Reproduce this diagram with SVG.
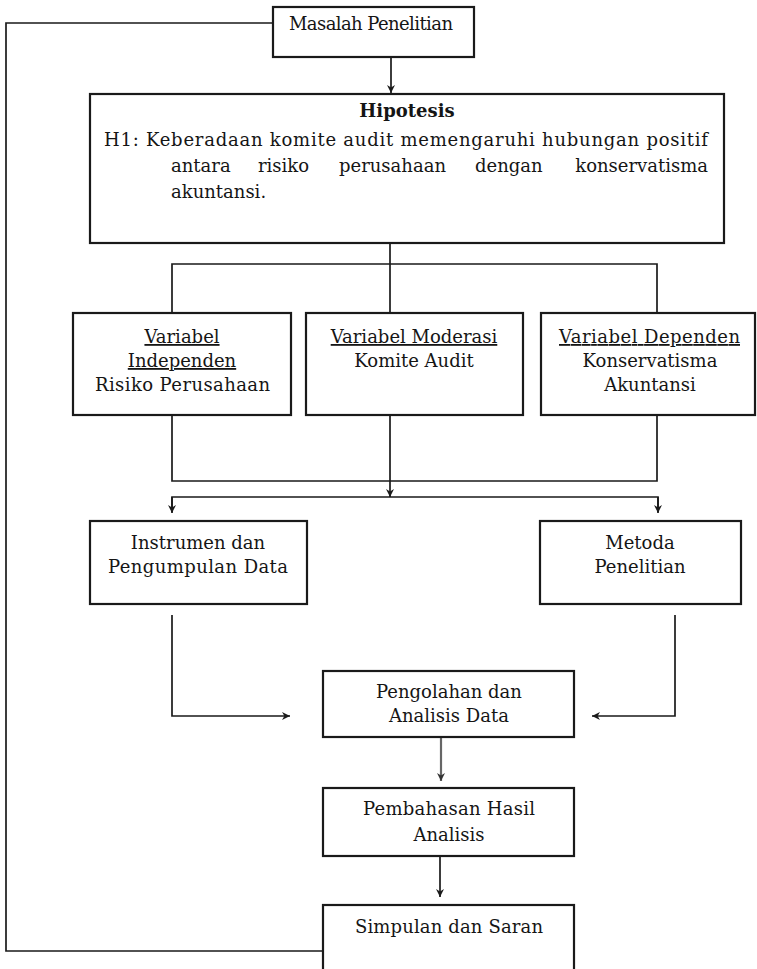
<svg xmlns="http://www.w3.org/2000/svg" width="757" height="969" viewBox="0 0 757 969">
<style>
.box{fill:#fff;stroke:#1a1a1a;stroke-width:2.2}
.ln{fill:none;stroke:#1a1a1a;stroke-width:1.7}
.gray{fill:none;stroke:#666;stroke-width:2.2}
text{font-family:"DejaVu Serif","Liberation Serif",serif;font-size:18px;fill:#151515}
.c{text-anchor:middle}
.u{text-decoration:underline}
.b{font-weight:bold}
</style>
<defs>
<marker id="ah" viewBox="0 0 10 10" refX="10" refY="5" markerWidth="8" markerHeight="8" markerUnits="userSpaceOnUse" orient="auto">
<path d="M0,0 L10,5 L0,10 L3,5 z" fill="#1a1a1a"/>
</marker>
<marker id="ahg" viewBox="0 0 10 10" refX="10" refY="5" markerWidth="8" markerHeight="8" markerUnits="userSpaceOnUse" orient="auto">
<path d="M0,0 L10,5 L0,10 L3,5 z" fill="#333"/>
</marker>
</defs>
<rect width="757" height="969" fill="#fff"/>
<g id="connectors">
<path class="ln" d="M273,23 H6 V951 H323"/>
<path class="ln" d="M391,57 V93" marker-end="url(#ah)"/>
<path class="ln" d="M390,243 V313"/>
<path class="ln" d="M172,313 V264 H657 V313"/>
<path class="ln" d="M172,415 V481 H657 V415"/>
<path class="ln" d="M390,415 V497" marker-end="url(#ah)"/>
<path class="ln" d="M172,512 V497 H658 V512"/>
<path class="ln" d="M172,497 V513" marker-end="url(#ah)"/>
<path class="ln" d="M658,497 V513" marker-end="url(#ah)"/>
<path class="ln" d="M172,615 V716 H290" marker-end="url(#ah)"/>
<path class="ln" d="M675,615 V716 H592" marker-end="url(#ah)"/>
<path class="gray" d="M441,732 V781" marker-end="url(#ahg)"/>
<path class="ln" d="M440,848 V897" marker-end="url(#ah)"/>
</g>
<g id="masalah">
<rect class="box" x="273" y="7" width="201" height="50"/>
<text x="289" y="30" textLength="164" lengthAdjust="spacing">Masalah Penelitian</text>
</g>
<g id="hipotesis">
<rect class="box" x="90" y="94" width="634" height="149"/>
<text class="c b" x="407" y="117">Hipotesis</text>
<text x="104" y="146" textLength="604" lengthAdjust="spacing">H1: Keberadaan komite audit memengaruhi hubungan positif</text>
<text y="172"><tspan x="171">antara</tspan><tspan x="258">risiko</tspan><tspan x="339">perusahaan</tspan><tspan x="475">dengan</tspan></text>
<text x="708" y="172" text-anchor="end">konservatisma</text>
<text x="171" y="198">akuntansi.</text>
</g>
<g id="var-independen">
<rect class="box" x="73" y="313" width="218" height="102"/>
<text class="c u" x="182" y="343">Variabel</text>
<text class="c u" x="182" y="367">Independen</text>
<text x="95" y="391" textLength="175" lengthAdjust="spacing">Risiko Perusahaan</text>
</g>
<g id="var-moderasi">
<rect class="box" x="306" y="313" width="217" height="102"/>
<text class="c u" x="414" y="343">Variabel Moderasi</text>
<text class="c" x="414" y="367">Komite Audit</text>
</g>
<g id="var-dependen">
<rect class="box" x="541" y="313" width="214" height="102"/>
<text class="u" x="559" y="343" textLength="181" lengthAdjust="spacing">Variabel Dependen</text>
<text class="c" x="650" y="367">Konservatisma</text>
<text class="c" x="650" y="391">Akuntansi</text>
</g>
<g id="instrumen">
<rect class="box" x="90" y="521" width="217" height="83"/>
<text class="c" x="198" y="549">Instrumen dan</text>
<text x="108" y="573" textLength="180" lengthAdjust="spacing">Pengumpulan Data</text>
</g>
<g id="metoda">
<rect class="box" x="540" y="521" width="201" height="83"/>
<text class="c" x="640" y="549">Metoda</text>
<text class="c" x="640" y="573">Penelitian</text>
</g>
<g id="pengolahan">
<rect class="box" x="323" y="671" width="251" height="66"/>
<text class="c" x="449" y="698">Pengolahan dan</text>
<text class="c" x="449" y="722">Analisis Data</text>
</g>
<g id="pembahasan">
<rect class="box" x="323" y="788" width="251" height="68"/>
<text x="363" y="815" textLength="172" lengthAdjust="spacing">Pembahasan Hasil</text>
<text class="c" x="449" y="841">Analisis</text>
</g>
<g id="simpulan">
<rect class="box" x="323" y="905" width="251" height="80"/>
<text x="355" y="933" textLength="188" lengthAdjust="spacing">Simpulan dan Saran</text>
</g>
</svg>
